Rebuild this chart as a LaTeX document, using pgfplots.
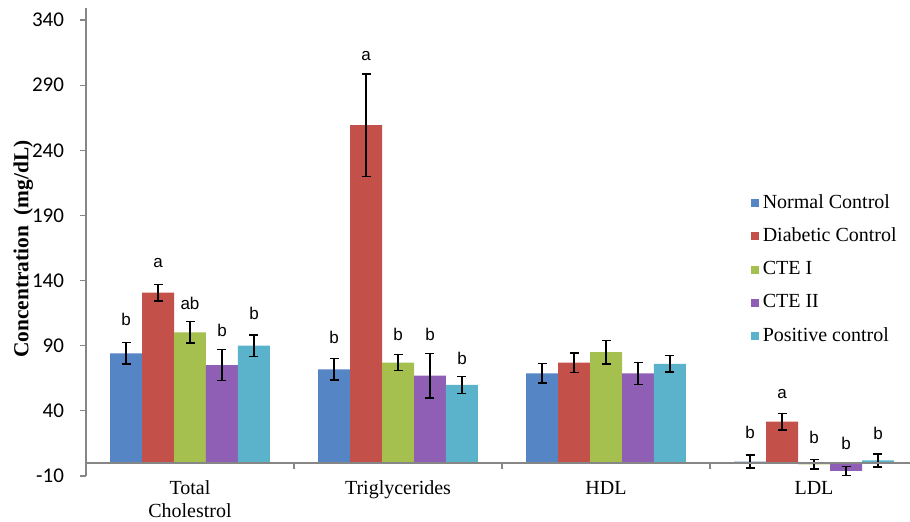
\documentclass[border=0pt]{standalone}
\usepackage{fontspec}
\setmainfont{Liberation Serif}
\newfontfamily\carlito{Carlito}
\newfontfamily\arial{Liberation Sans}
\usepackage{pgfplots}
\pgfplotsset{compat=1.18}
\usepackage{pgfplotstable}
\definecolor{cA}{HTML}{5585C5}
\definecolor{cB}{HTML}{C4504A}
\definecolor{cC}{HTML}{A6C04F}
\definecolor{cD}{HTML}{8E5FB5}
\definecolor{cE}{HTML}{5AB2CB}
\definecolor{axgray}{HTML}{868686}
\pgfplotstableread{
x y e
0 84.2 8.1
1 71.9 8.1
2 68.8 7.6
3 1 5
}\tabA
\pgfplotstableread{
x y e
0 130.7 6.3
1 259.2 39.3
2 77 7.5
3 31.7 6.4
}\tabB
\pgfplotstableread{
x y e
0 100.3 8.4
1 77 6.1
2 85 9.1
3 -1 3.6
}\tabC
\pgfplotstableread{
x y e
0 75 11.9
1 67 17
2 68.8 8.4
3 -6.1 3.5
}\tabD
\pgfplotstableread{
x y e
0 90 8.3
1 59.9 6.6
2 76 6.3
3 2 5
}\tabE
\pgfplotsset{
  mybar/.style={draw=none, fill=#1,
    error bars/y dir=both, error bars/y explicit,
    error bars/error bar style={black, line width=0.75pt},
    error bars/error mark options={rotate=90, mark size=2.25pt, black, line width=0.75pt}},
  myleg/.style={legend image code/.code={\fill[##1] (0pt,-2pt) rectangle (4pt,2pt);}},
}
\begin{document}
\begin{tikzpicture}
\begin{axis}[
  scale only axis, width=412pt, height=234pt,
  xmin=-0.5, xmax=3.4615, ymin=-10, ymax=349.2,
  axis y line*=left, axis x line*=bottom,
  x axis line style={draw=none},
  y axis line style={draw=axgray, line width=0.6pt, -},
  ytick={-10,40,...,340},
  xtick={0,1,2,3},
  xticklabels={Total\\Cholestrol,Triglycerides,HDL,LDL},
  xticklabel style={align=center, font=\fontsize{10}{11.5}\selectfont, yshift=4pt},
  x tick style={draw=none},
  y tick style={draw=axgray, line width=0.6pt},
  tick align=outside, major tick length=3pt,
  yticklabel style={font=\carlito\fontsize{10.5}{12}\selectfont, xshift=-4.5pt},
  /pgf/number format/assume math mode=true,
  ylabel={\textbf{Concentration\ \ (mg/dL)}},
  ylabel style={at={(axis description cs:-0.076,0.485)}, anchor=center, font=\fontsize{10.7}{12}\selectfont},
  ybar, bar width=0.1538,
  legend style={at={(axis description cs:0.799,0.62)}, anchor=north west, draw=none, fill=none,
    font=\fontsize{10}{12}\selectfont, row sep=4.4pt, cells={anchor=west}},
  clip=false,
]
\addplot[mybar=cA, bar shift=-0.3076, myleg] table[x=x, y=y, y error=e] {\tabA};
\addlegendentry{Normal Control}
\addplot[mybar=cB, bar shift=-0.1538, myleg] table[x=x, y=y, y error=e] {\tabB};
\addlegendentry{Diabetic Control}
\addplot[mybar=cC, bar shift=0, myleg] table[x=x, y=y, y error=e] {\tabC};
\addlegendentry{CTE I}
\addplot[mybar=cD, bar shift=0.1538, myleg] table[x=x, y=y, y error=e] {\tabD};
\addlegendentry{CTE II}
\addplot[mybar=cE, bar shift=0.3076, myleg] table[x=x, y=y, y error=e] {\tabE};
\addlegendentry{Positive control}
\draw[axgray, line width=0.6pt] (axis cs:-0.5,0) -- (axis cs:3.4615,0);
\draw[axgray, line width=0.6pt] (axis cs:0.5,0) -- ([yshift=-3pt]axis cs:0.5,0);
\draw[axgray, line width=0.6pt] (axis cs:1.5,0) -- ([yshift=-3pt]axis cs:1.5,0);
\draw[axgray, line width=0.6pt] (axis cs:2.5,0) -- ([yshift=-3pt]axis cs:2.5,0);
\begin{scope}[every node/.style={font=\arial\fontsize{8.5}{10}\selectfont}]
\node at (axis cs:-0.3076,110.5) {b};
\node at (axis cs:-0.1538,153.5) {a};
\node at (axis cs:0,122.8) {ab};
\node at (axis cs:0.1538,102) {b};
\node at (axis cs:0.3076,114.4) {b};
\node at (axis cs:0.6924,96) {b};
\node at (axis cs:0.8462,312.4) {a};
\node at (axis cs:1,99) {b};
\node at (axis cs:1.1538,99) {b};
\node at (axis cs:1.3076,80.6) {b};
\node at (axis cs:2.6924,23.3) {b};
\node at (axis cs:2.8462,53.2) {a};
\node at (axis cs:3,19.4) {b};
\node at (axis cs:3.1538,14.8) {b};
\node at (axis cs:3.3076,22.3) {b};
\end{scope}
\coordinate (O) at (rel axis cs:0,0);
\end{axis}
\pgfresetboundingbox
\path (O) ++(-43pt,-23pt) rectangle ++(455pt,261pt);
\end{tikzpicture}
\end{document}
